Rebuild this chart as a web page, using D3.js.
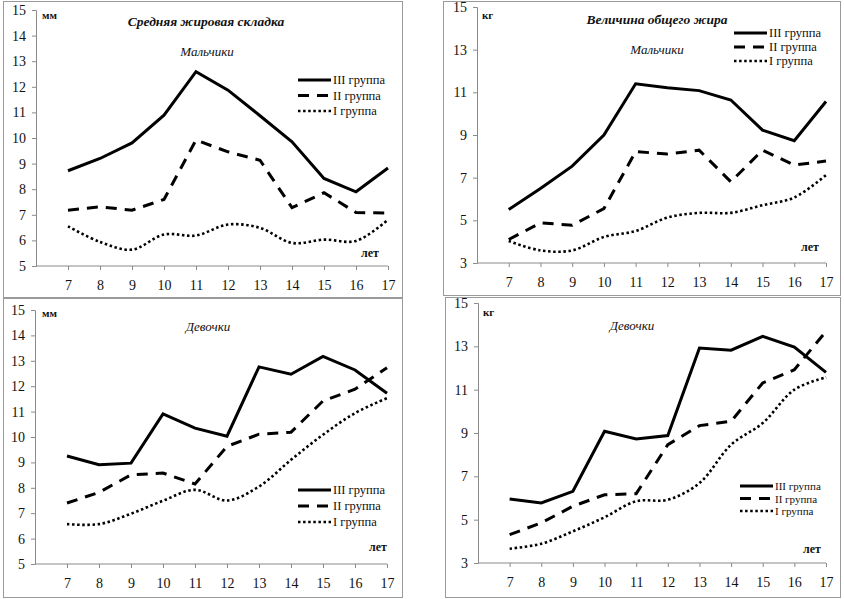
<!DOCTYPE html>
<html><head><meta charset="utf-8">
<script src="https://cdn.jsdelivr.net/npm/d3@7"></script>
<style>
html,body{margin:0;padding:0;background:#fff;}
svg{display:block;}
text{font-family:"Liberation Serif","Times New Roman",serif;fill:#111;}
</style></head>
<body>
<svg id="c" width="844" height="599"></svg>
<script>
const years = [7, 8, 9, 10, 11, 12, 13, 14, 15, 16, 17];
const groupLabels = ["III группа", "II группа", "I группа"];
const foldTicks = [5, 6, 7, 8, 9, 10, 11, 12, 13, 14, 15];
const fatTicks = [3, 5, 7, 9, 11, 13, 15];

// Средняя жировая складка, мм — мальчики
const boysFoldIII = [8.72, 9.2, 9.81, 10.89, 12.59, 11.87, 10.87, 9.85, 8.42, 7.9, 8.83];
const boysFoldII  = [7.18, 7.31, 7.18, 7.6, 9.92, 9.46, 9.13, 7.28, 7.86, 7.09, 7.07];
const boysFoldI   = [6.55, 5.94, 5.64, 6.23, 6.19, 6.62, 6.49, 5.9, 6.03, 5.98, 6.81];

// Величина общего жира, кг — мальчики
const boysFatIII = [5.51, 6.49, 7.54, 9.0, 11.4, 11.22, 11.08, 10.64, 9.23, 8.73, 10.57];
const boysFatII  = [4.1, 4.88, 4.77, 5.55, 8.22, 8.11, 8.29, 6.81, 8.29, 7.59, 7.78];
const boysFatI   = [4.03, 3.59, 3.59, 4.22, 4.5, 5.13, 5.35, 5.35, 5.71, 6.07, 7.12];

// Средняя жировая складка, мм — девочки
const girlsFoldIII = [9.25, 8.91, 8.97, 10.91, 10.35, 10.03, 12.76, 12.47, 13.17, 12.64, 11.72];
const girlsFoldII  = [7.4, 7.82, 8.51, 8.58, 8.15, 9.63, 10.11, 10.19, 11.42, 11.88, 12.73];
const girlsFoldI   = [6.57, 6.57, 6.98, 7.49, 7.92, 7.5, 8.05, 9.1, 10.09, 10.94, 11.53];

// Величина общего жира, кг — девочки
const girlsFatIII = [5.95, 5.77, 6.31, 9.08, 8.72, 8.88, 12.92, 12.82, 13.46, 12.97, 11.8];
const girlsFatII  = [4.31, 4.85, 5.62, 6.15, 6.2, 8.46, 9.34, 9.54, 11.31, 11.92, 13.69];
const girlsFatI   = [3.66, 3.89, 4.46, 5.11, 5.85, 5.92, 6.69, 8.46, 9.46, 11.0, 11.57];

const svg = d3.select("#c");

const styles = [
  {dash: null, width: 3, curve: d3.curveLinear},
  {dash: "11 8", width: 3, curve: d3.curveLinear},
  {dash: "2.5 2.6", width: 2.6, curve: d3.curveCatmullRom.alpha(0.5)}
];

const panels = [
  {frame:[3,1,399,296], xr:[36,388], yd:[5,15], yr:[266,10], ticks:foldTicks,
   series:[boysFoldIII,boysFoldII,boysFoldI], unit:"мм", unitPos:[42,19],
   title:"Средняя жировая складка", titlePos:[206,26], sub:"Мальчики", subPos:[207,56],
   let:[370,257], legend:[298,80,15.5,12.5]},
  {frame:[443,1,397,294], xr:[477,826], yd:[3,15], yr:[263,7], ticks:fatTicks,
   series:[boysFatIII,boysFatII,boysFatI], unit:"кг", unitPos:[482,19],
   title:"Величина общего жира", titlePos:[657,24], sub:"Мальчики", subPos:[657,54],
   let:[810,251], legend:[734,33,14,12.5]},
  {frame:[3,298,399,299], xr:[35,387], yd:[5,15], yr:[564,310], ticks:foldTicks,
   series:[girlsFoldIII,girlsFoldII,girlsFoldI], unit:"мм", unitPos:[42,317],
   title:null, sub:"Девочки", subPos:[208,331],
   let:[378,551], legend:[298,490,16,12.5]},
  {frame:[445,297,395,300], xr:[478,826], yd:[3,15], yr:[563,303], ticks:fatTicks,
   series:[girlsFatIII,girlsFatII,girlsFatI], unit:"кг", unitPos:[483,316],
   title:null, sub:"Девочки", subPos:[632,330],
   let:[812,553], legend:[740,486,12.5,11]}
];

panels.forEach(p => {
  const g = svg.append("g");
  g.append("rect").attr("x", p.frame[0] + 0.5).attr("y", p.frame[1] + 0.5)
    .attr("width", p.frame[2]).attr("height", p.frame[3])
    .attr("fill", "#fff").attr("stroke", "#9a9a9a").attr("stroke-width", 1);

  const x = d3.scaleLinear().domain([6, 17]).range(p.xr);
  const y = d3.scaleLinear().domain(p.yd).range(p.yr);

  // y axis
  const ya = g.append("g").attr("transform", `translate(${p.xr[0]},0)`)
    .call(d3.axisLeft(y).tickValues(p.ticks).tickSize(4).tickPadding(6).tickFormat(d3.format("d")));
  ya.select(".domain").attr("stroke", "#8a8a8a");
  ya.selectAll(".tick line").attr("stroke", "#8a8a8a");
  ya.selectAll(".tick text").attr("font-size", 14).attr("font-family", "Liberation Serif").attr("fill", "#222");

  // x axis
  const xa = g.append("g").attr("transform", `translate(0,${p.yr[0]})`)
    .call(d3.axisBottom(x).tickValues(years).tickSize(4).tickPadding(10).tickFormat(d3.format("d")));
  xa.select(".domain").attr("stroke", "#8a8a8a").attr("d", `M${p.xr[0]},0H${p.xr[1]}`);
  xa.selectAll(".tick line").attr("stroke", "#8a8a8a");
  xa.selectAll(".tick text").attr("font-size", 14).attr("font-family", "Liberation Serif").attr("fill", "#222");

  // lines
  p.series.forEach((vals, i) => {
    const st = styles[i];
    const line = d3.line().x((d, j) => x(years[j])).y(d => y(d)).curve(st.curve);
    g.append("path").datum(vals).attr("d", line)
      .attr("fill", "none").attr("stroke", "#000").attr("stroke-width", st.width)
      .attr("stroke-dasharray", st.dash);
  });

  // labels
  g.append("text").attr("x", p.unitPos[0]).attr("y", p.unitPos[1])
    .attr("font-size", 11).attr("font-weight", "bold").text(p.unit);
  if (p.title) {
    g.append("text").attr("x", p.titlePos[0]).attr("y", p.titlePos[1]).attr("text-anchor", "middle")
      .attr("font-size", 13.5).attr("font-weight", "bold").attr("font-style", "italic").text(p.title);
  }
  g.append("text").attr("x", p.subPos[0]).attr("y", p.subPos[1]).attr("text-anchor", "middle")
    .attr("font-size", 13).attr("font-style", "italic").attr("fill", "#333").text(p.sub);
  g.append("text").attr("x", p.let[0]).attr("y", p.let[1]).attr("text-anchor", "middle")
    .attr("font-size", 12).attr("font-weight", "bold").text("лет");

  // legend
  const [lx, ly, dy, fs] = p.legend;
  groupLabels.forEach((lab, i) => {
    const st = styles[i];
    const yy = ly + i * dy;
    g.append("line").attr("x1", lx).attr("x2", lx + 33).attr("y1", yy).attr("y2", yy)
      .attr("stroke", "#000").attr("stroke-width", st.width).attr("stroke-dasharray", st.dash);
    g.append("text").attr("x", lx + 35).attr("y", yy + 4).attr("font-size", fs).text(lab);
  });
});
</script>
</body></html>
